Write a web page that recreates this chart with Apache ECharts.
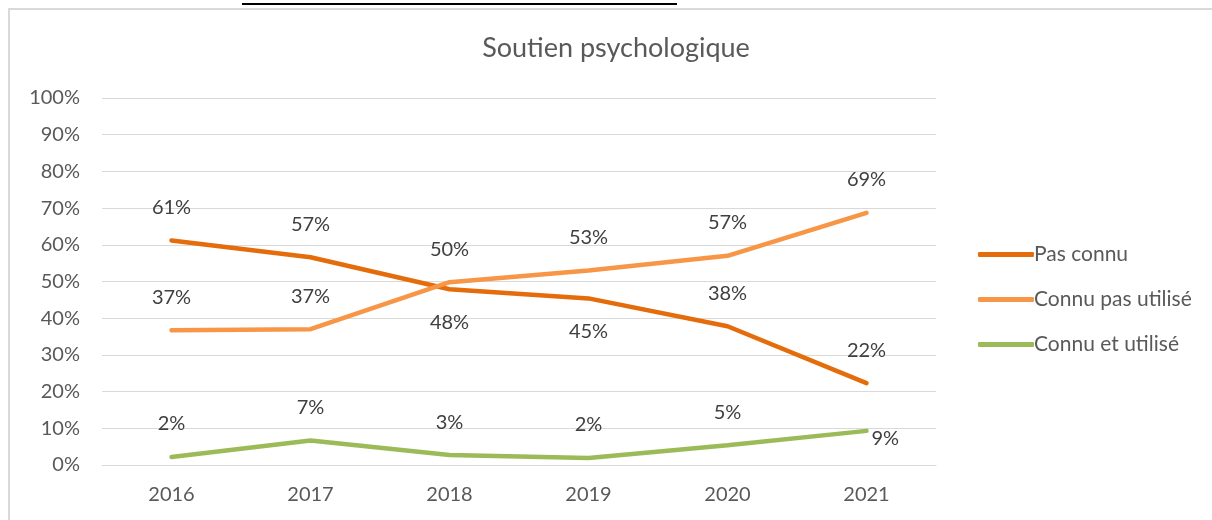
<!DOCTYPE html>
<html><head><meta charset="utf-8">
<script src="https://cdn.jsdelivr.net/npm/echarts@6/dist/echarts.min.js"></script>
<style>html,body{margin:0;padding:0;background:#fff}#c{width:1212px;height:520px}</style>
</head><body><div id="c"></div>
<script>
const title = 'Soutien psychologique';
const categories = ['2016','2017','2018','2019','2020','2021'];
const seriesNames = ['Pas connu','Connu pas utilisé','Connu et utilisé'];
const pasConnu = [61.2, 56.6, 47.9, 45.4, 37.8, 22.3];
const connuPasUtilise = [36.7, 37.0, 49.8, 53.0, 57.0, 68.7];
const connuEtUtilise = [2.2, 6.7, 2.7, 1.9, 5.4, 9.3];
const yTicks = [0,10,20,30,40,50,60,70,80,90,100];

const colors = ['#E46C0A','#F79646','#9BBB59'];
const FONT = 'Lato, "Open Sans", sans-serif';
const placements = [
  ['top','top','bottom','bottom','top','top'],
  ['top','top','top','top','top','top'],
  ['top','top','top','top','top','right']
];
const allData = [pasConnu, connuPasUtilise, connuEtUtilise];

function mkData(vals, pl){
  return vals.map((v,i)=>{
    const p = pl[i];
    let label;
    if(p==='top') label={position:'top', distance:22};
    else if(p==='bottom') label={position:'bottom', distance:22};
    else label={position:[6,-1], align:'left', verticalAlign:'top'};
    return {value:v, label};
  });
}

const chart = echarts.init(document.getElementById('c'));
chart.setOption({
  animation:false,
  title:{text:title, left:611, top:30, textAlign:'center',
    textStyle:{fontFamily:FONT, fontSize:27, fontWeight:'normal', color:'#595959'}},
  grid:{left:102, right:276, top:98, bottom:55},
  legend:{orient:'vertical', left:973, top:239, itemWidth:56, itemHeight:5, itemGap:24,
    icon:'roundRect',
    textStyle:{fontFamily:FONT, fontSize:21, color:'#595959', padding:[0,0,0,-5]},
    data:seriesNames},
  xAxis:{type:'category', data:categories, boundaryGap:true,
    axisLine:{lineStyle:{color:'#d9d9d9', width:1}}, axisTick:{show:false},
    axisLabel:{fontFamily:FONT, fontSize:20, color:'#595959', margin:20}},
  yAxis:{type:'value', min:yTicks[0], max:yTicks[yTicks.length-1], interval:10,
    axisLine:{show:false}, axisTick:{show:false},
    splitLine:{lineStyle:{color:'#d9d9d9', width:1}},
    axisLabel:{fontFamily:FONT, fontSize:20, color:'#595959', margin:22, formatter:'{value}%'}},
  graphic:[
    {type:'rect', shape:{x:9, y:9, width:1300, height:600}, style:{fill:'none', stroke:'#d9d9d9', lineWidth:2}, silent:true, z:-10},
    {type:'line', shape:{x1:242, y1:4, x2:677, y2:4}, style:{stroke:'#000', lineWidth:2}, silent:true}
  ],
  series: seriesNames.map((n,k)=>({
    name:n, type:'line', data:mkData(allData[k], placements[k]),
    symbol:'circle', symbolSize:2, showSymbol:true, smooth:false,
    lineStyle:{color:colors[k], width:4.5, cap:'round'},
    itemStyle:{color:colors[k], borderWidth:0},
    label:{show:true, fontFamily:FONT, fontSize:20, color:'#404040',
      formatter:p=>Math.round(p.value)+'%'},
    labelLayout:{hideOverlap:false}
  }))
});
</script></body></html>
